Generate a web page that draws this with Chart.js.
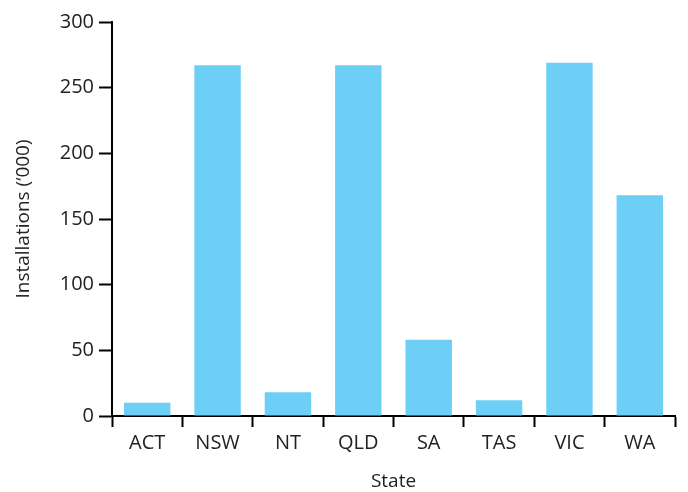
<!DOCTYPE html>
<html>
<head>
<meta charset="utf-8">
<script src="https://cdn.jsdelivr.net/npm/chart.js@4"></script>
<style>
  html, body { margin: 0; padding: 0; background: #fff; }
  #wrap { width: 688px; height: 492px; }
</style>
</head>
<body>
<div id="wrap"><canvas id="barChart"></canvas></div>
<script>
const states = ['ACT', 'NSW', 'NT', 'QLD', 'SA', 'TAS', 'VIC', 'WA'];
const installations = [10, 267, 18, 267, 58, 12, 269, 168];
const yTicks = [0, 50, 100, 150, 200, 250, 300];

const ctx = document.getElementById('barChart');
const barChart = new Chart(ctx, {
    type: 'bar',
    data: {
        labels: states,
        datasets: [{
            label: 'Installations',
            data: installations,
            backgroundColor: '#6dcff6',
            borderWidth: 0,
            categoryPercentage: 0.66,
            barPercentage: 1
        }]
    },
    options: {
        responsive: true,
        maintainAspectRatio: false,
        animation: false,
        layout: { padding: { top: 22, right: 13, left: 0, bottom: 0 } },
        plugins: {
            legend: { display: false },
            tooltip: { enabled: false }
        },
        scales: {
            y: {
                min: 0,
                max: 300,
                afterBuildTicks: (axis) => { axis.ticks = yTicks.map(v => ({ value: v })); },
                afterFit: (axis) => { axis.width = 112; },
                border: { display: true, color: '#000', width: 2 },
                grid: { drawOnChartArea: false, tickLength: 13, tickColor: '#000', tickWidth: 2 },
                ticks: { color: '#222', font: { family: 'Open Sans', size: 20 }, padding: 5 },
                title: {
                    display: true,
                    text: 'Installations (\u2018000)',
                    color: '#222',
                    font: { family: 'Open Sans', size: 19 },
                    padding: { top: 12, bottom: 0 }
                }
            },
            x: {
                afterFit: (axis) => { axis.height = 76; },
                border: { display: true, color: '#000', width: 2 },
                grid: { drawOnChartArea: false, offset: true, tickLength: 11, tickColor: '#000', tickWidth: 2 },
                ticks: { color: '#222', font: { family: 'Open Sans', size: 20 }, padding: 4 },
                title: {
                    display: true,
                    text: 'State',
                    color: '#222',
                    font: { family: 'Open Sans', size: 19 },
                    padding: { top: 9, bottom: -1 }
                }
            }
        }
    }
});
</script>
</body>
</html>
